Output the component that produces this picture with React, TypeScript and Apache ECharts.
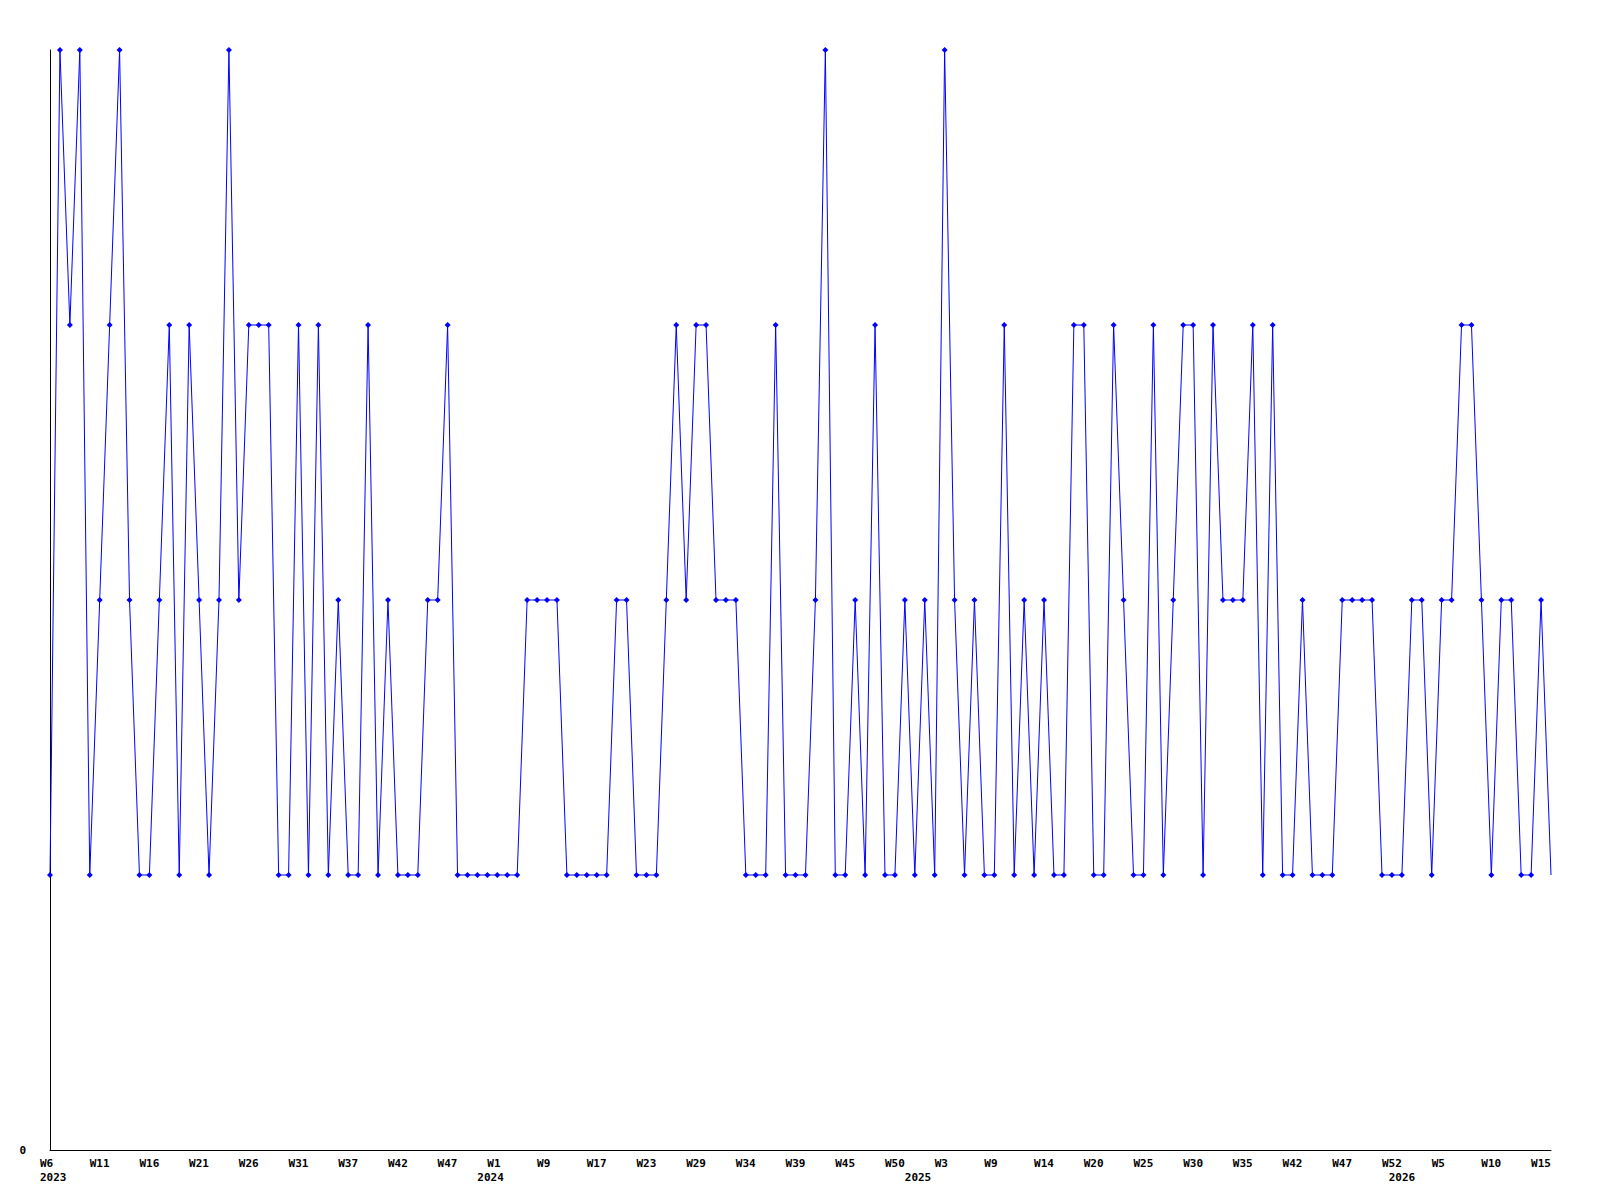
import React, { useEffect, useRef } from "react";
import * as echarts from "echarts";

// ISO weeks present in the series, per year
const weeks2023 = [6, 7, 8, 9, 10, 11, 12, 13, 14, 15, 16, 17, 18, 19, 20, 21, 22, 23, 24, 25, 26, 27, 28, 29, 30, 31, 32, 33, 34, 36, 37, 38, 39, 40, 41, 42, 43, 44, 45, 46, 47, 48, 49, 50, 51];
const weeks2024 = [1, 2, 4, 6, 7, 9, 10, 12, 14, 15, 17, 18, 19, 20, 22, 23, 24, 25, 26, 28, 29, 30, 31, 32, 33, 34, 35, 36, 37, 38, 39, 40, 41, 42, 44, 45, 46, 47, 48, 49, 50, 51, 52];
const weeks2025 = [1, 2, 3, 4, 5, 6, 8, 9, 10, 11, 12, 13, 14, 15, 16, 17, 19, 20, 21, 22, 23, 24, 25, 26, 27, 28, 29, 30, 31, 32, 33, 34, 35, 36, 37, 39, 40, 42, 43, 44, 45, 46, 47, 48, 49, 50, 51, 52];
const weeks2026 = [1, 2, 3, 4, 5, 6, 7, 8, 9, 10, 11, 12, 13, 14, 15, 16];

// values, one per week above
const values2023 = [1, 4, 3, 4, 1, 2, 3, 4, 2, 1, 1, 2, 3, 1, 3, 2, 1, 2, 4, 2, 3, 3, 3, 1, 1, 3, 1, 3, 1, 2, 1, 1, 3, 1, 2, 1, 1, 1, 2, 2, 3, 1, 1, 1, 1];
const values2024 = [1, 1, 1, 2, 2, 2, 2, 1, 1, 1, 1, 1, 2, 2, 1, 1, 1, 2, 3, 2, 3, 3, 2, 2, 2, 1, 1, 1, 3, 1, 1, 1, 2, 4, 1, 1, 2, 1, 3, 1, 1, 2, 1];
const values2025 = [2, 1, 4, 2, 1, 2, 1, 1, 3, 1, 2, 1, 2, 1, 1, 3, 3, 1, 1, 3, 2, 1, 1, 3, 1, 2, 3, 3, 1, 3, 2, 2, 2, 3, 1, 3, 1, 1, 2, 1, 1, 1, 2, 2, 2, 2, 1, 1];
const values2026 = [1, 2, 2, 1, 2, 2, 3, 3, 2, 1, 2, 2, 1, 1, 2, 1];

const yearList = [2023, 2024, 2025, 2026];
const weekLists = [weeks2023, weeks2024, weeks2025, weeks2026];
const valueLists = [values2023, values2024, values2025, values2026];

const categories: string[] = [];
const values: number[] = [];
const yearStarts: Record<number, number> = {};
yearList.forEach((y, yi) => {
  yearStarts[categories.length] = y;
  weekLists[yi].forEach((w, wi) => {
    categories.push(`${y}-W${w}`);
    values.push(valueLists[yi][wi]);
  });
});

const FONT = "DejaVu Sans Mono";

export default function App() {
  const ref = useRef<HTMLDivElement>(null);
  useEffect(() => {
    if (!ref.current) return;
    const chart = echarts.init(ref.current, null, { renderer: "svg" });
    const lastIdx = values.length - 1;
    const seriesData = values.map((v, i) =>
      i === lastIdx ? { value: v, symbol: "none" } : v
    );
    const baseText = { fontFamily: FONT, fontSize: 11, fontWeight: "bold", color: "#000" };
    chart.setOption({
      animation: false,
      backgroundColor: "#ffffff",
      grid: { left: 50, right: 49, top: 50, bottom: 50, containLabel: false },
      xAxis: [
        {
          type: "category",
          data: categories,
          boundaryGap: false,
          axisLine: { show: true, lineStyle: { color: "#000", width: 1 } },
          axisTick: { show: false },
          splitLine: { show: false },
          axisLabel: {
            interval: 4,
            margin: 8,
            formatter: (v: string) => `{w|${v.split("-")[1]}}`,
            rich: { w: { ...baseText, width: 20, align: "left" } },
          },
        },
        {
          type: "category",
          data: categories,
          boundaryGap: false,
          position: "bottom",
          offset: 14,
          axisLine: { show: false },
          axisTick: { show: false },
          splitLine: { show: false },
          axisLabel: {
            interval: (idx: number) => yearStarts[idx] !== undefined,
            margin: 8,
            formatter: (v: string) => {
              const y = v.split("-")[0];
              if (y === "2023") return `{s|${y}}`;
              if (y === "2026") return `{c|${y}}`;
              return `{l|${y}}`;
            },
            rich: {
              s: { ...baseText, width: 20, align: "left" },
              l: { ...baseText, width: 40, align: "left" },
              c: { ...baseText, align: "center" },
            },
          },
        },
      ],
      yAxis: {
        type: "value",
        min: 0,
        max: 4,
        interval: 1,
        axisLine: { show: true, lineStyle: { color: "#000", width: 1 } },
        axisTick: { show: false },
        splitLine: { show: false },
        axisLabel: {
          ...baseText,
          margin: 24,
          formatter: (v: number) => (v === 0 ? "0" : ""),
        },
      },
      series: [
        {
          type: "line",
          xAxisIndex: 0,
          data: seriesData,
          showAllSymbol: true,
          symbol: "diamond",
          symbolSize: 6,
          lineStyle: { color: "#0000ff", width: 1 },
          itemStyle: { color: "#0000ff" },
          emphasis: { disabled: true },
          clip: false,
        },
      ],
    });
    return () => chart.dispose();
  }, []);
  return (
    <div
      ref={ref}
      style={{ position: "fixed", left: 0, top: 0, width: 1600, height: 1200, background: "#fff" }}
    />
  );
}
